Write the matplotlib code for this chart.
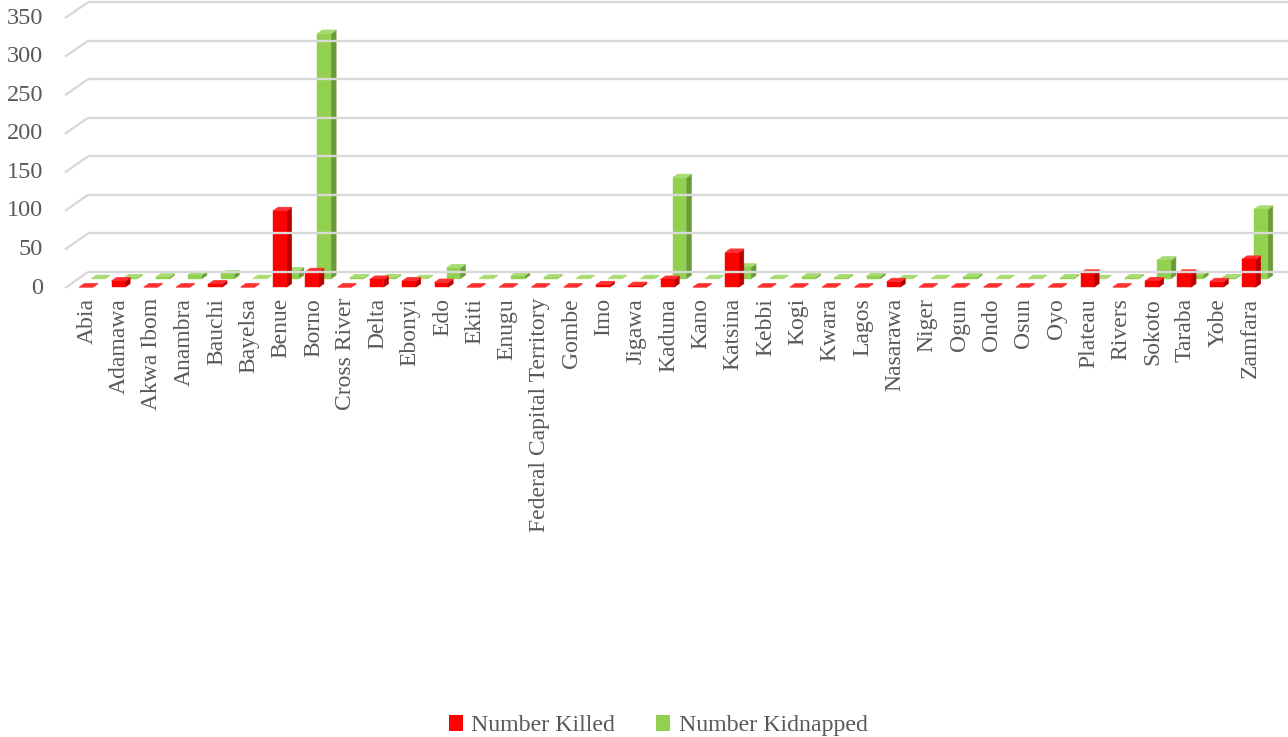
import matplotlib
matplotlib.use("Agg")
import matplotlib.pyplot as plt
from matplotlib.patches import Polygon, Patch

states = ["Abia", "Adamawa", "Akwa Ibom", "Anambra", "Bauchi", "Bayelsa", "Benue",
          "Borno", "Cross River", "Delta", "Ebonyi", "Edo", "Ekiti", "Enugu",
          "Federal Capital Territory", "Gombe", "Imo", "Jigawa", "Kaduna", "Kano",
          "Katsina", "Kebbi", "Kogi", "Kwara", "Lagos", "Nasarawa", "Niger", "Ogun",
          "Ondo", "Osun", "Oyo", "Plateau", "Rivers", "Sokoto", "Taraba", "Yobe",
          "Zamfara"]
killed = [0, 8, 0, 0, 4, 0, 99, 20, 0, 10, 8, 6, 0, 0, 0, 0, 3, 2, 10, 0,
          45, 0, 0, 0, 0, 7, 0, 0, 0, 0, 0, 18, 0, 8, 18, 7, 36]
kidnapped = [0, 1, 2, 5, 6, 0, 10, 318, 1, 1, 0, 14, 0, 4, 1, 0, 0, 0, 131, 0,
             15, 0, 2, 1, 3, 0, 0, 2, 0, 0, 1, 0, 1, 24, 5, 1, 90]
yticks = [0, 50, 100, 150, 200, 250, 300, 350]

GRAY = "#595959"
FONT = "Liberation Serif"

# pixel scale of the oblique (fake 3-D) view
PX_X = 32.3     # pixels per category
PX_Y = 0.771    # pixels per unit
DEPTH_X = 23 / PX_X
DEPTH_Y = 16 / PX_Y


def proj(x, v, z):
    return (x + z * DEPTH_X, v + z * DEPTH_Y)


def draw_bar(ax, i, v, z0, z1, colors):
    front, side, top = colors
    x0 = i - 0.215
    x1 = x0 + 0.42
    ax.add_patch(Polygon([proj(x1, 0, z0), proj(x1, 0, z1), proj(x1, v, z1), proj(x1, v, z0)],
                         closed=True, facecolor=side, edgecolor=side, lw=0.4))
    ax.add_patch(Polygon([proj(x0, v, z0), proj(x1, v, z0), proj(x1, v, z1), proj(x0, v, z1)],
                         closed=True, facecolor=top, edgecolor=top, lw=0.6))
    if v > 0:
        ax.add_patch(Polygon([proj(x0, 0, z0), proj(x1, 0, z0), proj(x1, v, z0), proj(x0, v, z0)],
                             closed=True, facecolor=front, edgecolor=front, lw=0.3))


fig = plt.figure(figsize=(12.88, 7.37), dpi=100)
ax = fig.add_axes([0, 0, 1, 1])
ax.set_xlim(-85 / PX_X, (1288 - 85) / PX_X)
ax.set_ylim((288 - 737) / PX_Y, 288 / PX_Y)
ax.axis("off")

# back wall gridlines and the slanted side-wall ticks
x_front = (65 - 85) / PX_X
for t in yticks:
    xa, va = proj(x_front, t, 0)
    xb, vb = proj(x_front, t, 1)
    ax.plot([xa, xb], [va, vb], color="#D9D9D9", lw=1.7, solid_capstyle="butt")
    ax.plot([xb, 40], [vb, vb], color="#D9D9D9", lw=1.7, solid_capstyle="butt")
    ax.text((43 - 85) / PX_X, t, str(t), ha="right", va="center",
            fontsize=17.5, color=GRAY, family=FONT)

green_cols = ("#92D050", "#6B9A3B", "#A8DC72")
red_cols = ("#FF0000", "#B80000", "#FF3030")
for i, v in enumerate(kidnapped):
    draw_bar(ax, i, v, 0.58, 0.8, green_cols)
for i, v in enumerate(killed):
    draw_bar(ax, i, v, 0.05, 0.27, red_cols)

for i, name in enumerate(states):
    ax.text(i + 0.07, -10 / PX_Y, name, rotation=90, ha="center", va="top",
            fontsize=17, color=GRAY, family=FONT)

handles = [Patch(facecolor="#FF0000", label="Number Killed"),
           Patch(facecolor="#92D050", label="Number Kidnapped")]
fig.legend(handles=handles, loc="center", bbox_to_anchor=(0.511, 0.015), ncol=2,
           frameon=False, handlelength=0.6, handleheight=0.6, handletextpad=0.35,
           columnspacing=1.7, prop={"family": FONT, "size": 17.2}, labelcolor=GRAY)

fig.savefig("out.png", dpi=100)
